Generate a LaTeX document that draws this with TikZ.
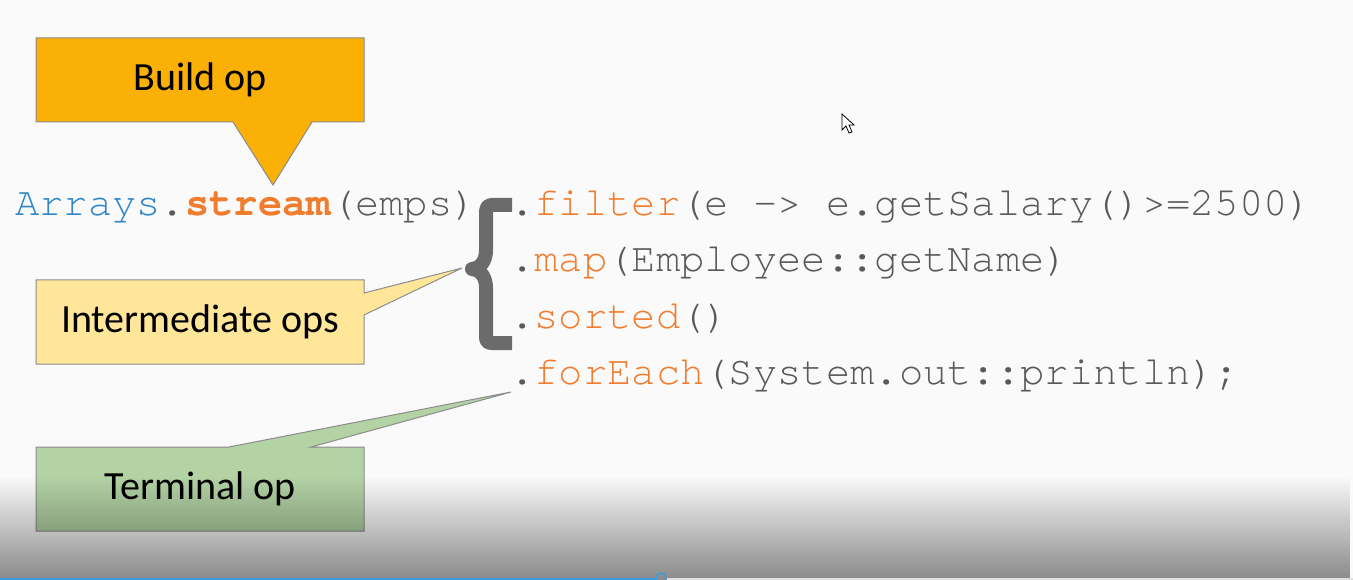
\documentclass[tikz,border=0pt]{standalone}
\usepackage{fontspec}
\setmainfont{Carlito}
\newfontfamily\codefont{texgyrecursor}[Extension=.otf, UprightFont=*-regular, BoldFont=*-bold, Ligatures=NoCommon]
\usetikzlibrary{fadings}
\newcommand\msp{\hbox to 0.6em{}}
\definecolor{bg}{HTML}{FAFAFA}
\definecolor{buildfill}{HTML}{FAB005}
\definecolor{interfill}{HTML}{FFE699}
\definecolor{termfill}{HTML}{B3D3A5}
\definecolor{boxline}{HTML}{8C8C8C}
\definecolor{cblue}{HTML}{2E86C8}
\definecolor{corange}{HTML}{F07D2E}
\definecolor{cgray}{HTML}{595959}
\definecolor{bracegray}{HTML}{6B6B6B}
\definecolor{barblue}{HTML}{3A9BE0}
\tikzset{
  callout/.style={draw=boxline, line width=1pt, line join=miter},
  calltext/.style={font=\fontsize{40}{48}\selectfont, text=black, inner sep=0pt},
  code/.style={font=\codefont\fontsize{40.5}{48}\selectfont, text=cgray, inner sep=0pt, anchor=base west},
}
\begin{document}
\begin{tikzpicture}[x=1pt,y=-1pt]
\fill[bg] (0,0) rectangle (1353,580);
\useasboundingbox (0,0) rectangle (1353,580);

% code lines
\node[code] (l0) at (15,216) {{\color{cblue}Arrays}.{\bfseries\color{corange}stream}(emps)};
\node[code] (l1) at (510,216) {.{\color{corange}filter}(e\msp->\msp e.getSalary()>=2500)};
\node[code] (l2) at (510,272) {.{\color{corange}map}(Employee::getName)};
\node[code] (l3) at (510,328) {.{\color{corange}sorted}()};
\node[code] (l4) at (510,384) {.{\color{corange}forEach}(System.out::println);};

% brace
\draw[bracegray, line width=14pt, line join=round, line cap=butt]
  (512,205) -- (492,205) .. controls (487,205) and (486,208) .. (486,214) -- (486,250)
  .. controls (486,262) and (480,268) .. (472,269)
  .. controls (480,270) and (486,276) .. (486,288)
  -- (486,336) .. controls (486,341) and (487,343) .. (492,343) -- (512,343);

% Build op callout
\coordinate (btip) at (273,185);
\filldraw[callout, fill=buildfill] (36,38) -- (364,38) -- (364,122) -- (312,122) -- (btip) -- (233,122) -- (36,122) -- cycle;
\node[calltext] (build) at (200,80) {Build op};

% Intermediate ops callout
\coordinate (itip) at (462,268);
\filldraw[callout, fill=interfill] (36,280) -- (364,280) -- (364,293) -- (itip) -- (364,315) -- (364,364) -- (36,364) -- cycle;
\node[calltext] (inter) at (200,322) {Intermediate ops};

% Terminal op callout
\coordinate (ttip) at (511,392);
\filldraw[callout, fill=termfill] (36,447) -- (229,447) -- (ttip) -- (311,447) -- (364,447) -- (364,531) -- (36,531) -- cycle;
\node[calltext] (term) at (200,489) {Terminal op};

% mouse cursor
\filldraw[fill=white, draw=black, line width=0.8pt, line join=miter]
  (842,114) -- (842,130) -- (846,126) -- (849,133) -- (852,132) -- (849,125) -- (854,125) -- cycle;

% bottom shading overlay
\fill[black, fill opacity=0.45, path fading=north] (0,476) rectangle (1353,580);

% player progress bar
\draw[barblue, line width=2pt] (0,579) -- (656,579);
\draw[white!75!gray, line width=2pt] (667,579) -- (1353,579);
\draw[barblue, line width=1.5pt] (661,578) circle (5);
\end{tikzpicture}
\end{document}
